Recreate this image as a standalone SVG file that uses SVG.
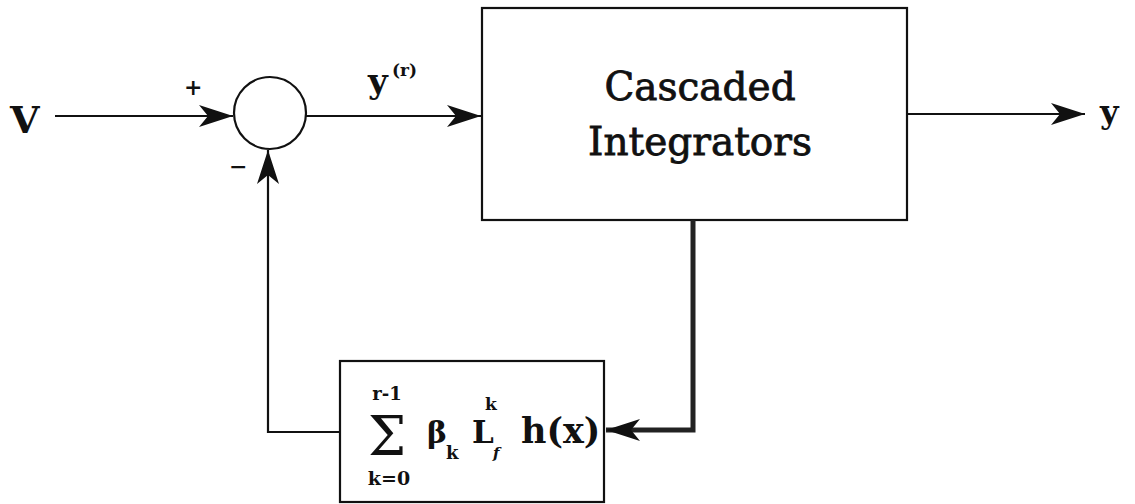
<svg xmlns="http://www.w3.org/2000/svg" width="1135" height="504" viewBox="0 0 1135 504">
<style>
.t{font-family:"DejaVu Serif","Liberation Serif",serif;fill:#111}
.b{font-weight:bold}
.ln{stroke:#111;stroke-width:2.2;fill:none}
.thick{stroke:#222;stroke-width:5;fill:none}
</style>
<defs>
<marker id="ah" markerWidth="36" markerHeight="24" refX="34" refY="12" orient="auto" markerUnits="userSpaceOnUse">
<path d="M0,1 L34,12 L0,23 L9,12 Z" fill="#111"/>
</marker>
</defs>
<rect width="1135" height="504" fill="#fff"/>
<g id="input"><text class="t b" x="10" y="133" font-size="38">V</text></g>
<g id="sum">
<circle cx="270" cy="113" r="36" class="ln"/>
<text class="t b" x="184" y="95" font-size="22">+</text>
<text class="t b" x="229" y="174" font-size="22">−</text>
</g>
<g id="integrators">
<rect x="482" y="8" width="425" height="212" class="ln"/>
<text class="t" x="700" y="100" font-size="39" text-anchor="middle" stroke="#111" stroke-width="0.8">Cascaded</text>
<text class="t" x="700" y="155" font-size="39" text-anchor="middle" stroke="#111" stroke-width="0.8">Integrators</text>
</g>
<g id="feedback">
<rect x="340" y="361" width="264" height="141" class="ln"/>
<text class="t" x="387" y="455" font-size="54" text-anchor="middle">Σ</text>
<text class="t b" x="387" y="400" font-size="18" text-anchor="middle">r-1</text>
<text class="t b" x="389" y="485" font-size="19" text-anchor="middle">k=0</text>
<text class="t b" x="427" y="443" font-size="30">β</text>
<text class="t b" x="446" y="459" font-size="18">k</text>
<text class="t b" x="472" y="443" font-size="31">L</text>
<text class="t b" x="485" y="410" font-size="17">k</text>
<text class="t b" x="493" y="458" font-size="15" font-style="italic">f</text>
<text class="t b" x="521" y="443" font-size="35">h(x)</text>
</g>
<g id="labels">
<text class="t b" x="368" y="93" font-size="34">y</text>
<text class="t b" x="392" y="76" font-size="17">(r)</text>
<text class="t b" x="1100" y="123" font-size="32">y</text>
</g>
<g id="connectors">
<line x1="55" y1="116" x2="233" y2="116" class="ln" marker-end="url(#ah)"/>
<line x1="306" y1="116" x2="481" y2="116" class="ln" marker-end="url(#ah)"/>
<line x1="907" y1="114" x2="1085" y2="114" class="ln" marker-end="url(#ah)"/>
<polyline points="340,432 268,432 268,150" class="ln" marker-end="url(#ah)"/>
<polyline points="693,220 693,430 606,430" class="thick" marker-end="url(#ah)"/>
</g>
</svg>
